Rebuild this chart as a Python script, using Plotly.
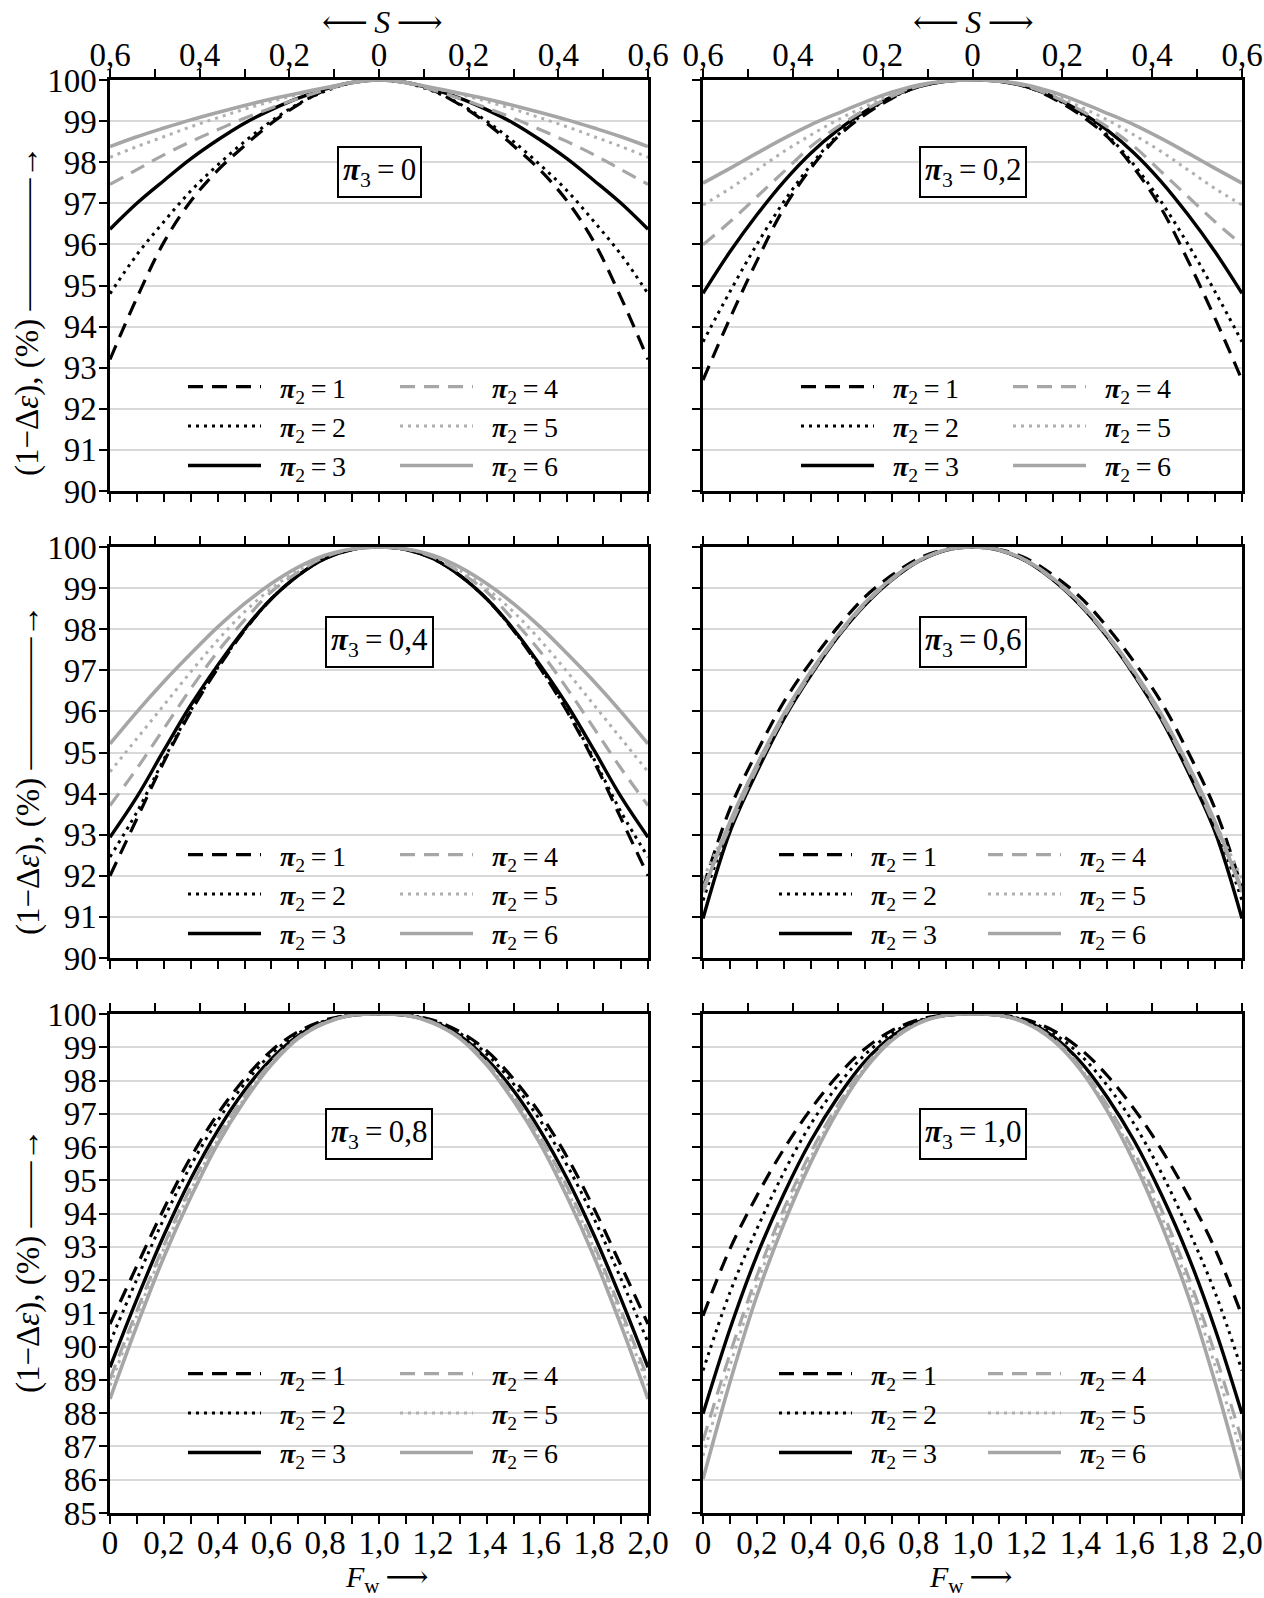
import plotly.graph_objects as go

W, H = 1264, 1598
FONT = "Liberation Serif, DejaVu Serif, serif"

# Fw values of the left half (curves are symmetric about Fw = 1)
FW_HALF = [0.0, 0.1, 0.2, 0.3, 0.4, 0.5, 0.6, 0.7, 0.8, 0.9, 1.0]
PI2_VALUES = [1, 2, 3, 4, 5, 6]
PI3_LABELS = ["0", "0,2", "0,4", "0,6", "0,8", "1,0"]

# (1 - delta eps) in % at FW_HALF, one row per pi2 = 1..6
PI3_00 = [
    [93.2, 94.7, 96.05, 97.05, 97.8, 98.4, 98.95, 99.4, 99.75, 99.94, 100],
    [94.8, 95.75, 96.55, 97.3, 97.93, 98.5, 99.0, 99.42, 99.73, 99.93, 100],
    [96.37, 97.0, 97.55, 98.08, 98.54, 98.95, 99.28, 99.56, 99.78, 99.94, 100],
    [97.46, 97.82, 98.18, 98.5, 98.79, 99.07, 99.32, 99.55, 99.76, 99.93, 100],
    [98.12, 98.38, 98.62, 98.86, 99.08, 99.29, 99.48, 99.65, 99.81, 99.94, 100],
    [98.38, 98.62, 98.83, 99.03, 99.21, 99.38, 99.54, 99.68, 99.81, 99.94, 100],
]
PI3_02 = [
    [92.7, 94.2, 95.6, 96.88, 97.85, 98.62, 99.15, 99.55, 99.84, 99.97, 100],
    [93.63, 94.85, 96.0, 97.04, 97.93, 98.66, 99.19, 99.57, 99.84, 99.97, 100],
    [94.81, 95.82, 96.72, 97.53, 98.22, 98.78, 99.23, 99.59, 99.84, 99.97, 100],
    [95.99, 96.55, 97.16, 97.77, 98.38, 98.86, 99.27, 99.6, 99.85, 99.97, 100],
    [96.96, 97.36, 97.81, 98.26, 98.66, 99.03, 99.35, 99.64, 99.85, 99.97, 100],
    [97.49, 97.85, 98.22, 98.58, 98.91, 99.19, 99.46, 99.7, 99.88, 99.97, 100],
]
PI3_04 = [
    [92.0, 93.39, 94.77, 95.99, 97.04, 97.97, 98.74, 99.31, 99.72, 99.94, 100],
    [92.46, 93.55, 94.83, 96.02, 97.06, 97.98, 98.74, 99.31, 99.72, 99.94, 100],
    [92.94, 93.92, 95.05, 96.15, 97.12, 98.0, 98.74, 99.31, 99.72, 99.94, 100],
    [93.71, 94.61, 95.58, 96.55, 97.45, 98.22, 98.91, 99.39, 99.76, 99.95, 100],
    [94.53, 95.34, 96.15, 96.96, 97.73, 98.42, 98.99, 99.43, 99.78, 99.95, 100],
    [95.21, 95.99, 96.72, 97.4, 98.05, 98.62, 99.11, 99.51, 99.8, 99.95, 100],
]
PI3_06 = [
    [91.7, 93.63, 95.01, 96.23, 97.2, 98.05, 98.78, 99.31, 99.72, 99.94, 100],
    [91.4, 93.23, 94.61, 95.9, 96.94, 97.85, 98.62, 99.22, 99.66, 99.93, 100],
    [90.96, 93.07, 94.53, 95.82, 96.88, 97.81, 98.58, 99.19, 99.65, 99.92, 100],
    [91.7, 93.19, 94.61, 95.86, 96.91, 97.83, 98.6, 99.2, 99.66, 99.92, 100],
    [91.93, 93.31, 94.69, 95.9, 96.94, 97.85, 98.62, 99.22, 99.66, 99.93, 100],
    [91.6, 93.31, 94.7, 95.94, 96.97, 97.87, 98.64, 99.23, 99.67, 99.93, 100],
]
PI3_08 = [
    [90.68, 92.43, 94.14, 95.69, 96.99, 98.05, 98.9, 99.47, 99.82, 99.97, 100],
    [90.13, 92.03, 93.84, 95.44, 96.79, 97.9, 98.8, 99.42, 99.8, 99.97, 100],
    [89.38, 91.43, 93.34, 95.04, 96.49, 97.7, 98.65, 99.35, 99.77, 99.96, 100],
    [89.03, 91.08, 93.04, 94.79, 96.29, 97.53, 98.55, 99.3, 99.75, 99.96, 100],
    [88.83, 90.93, 92.94, 94.69, 96.22, 97.46, 98.52, 99.28, 99.74, 99.96, 100],
    [88.43, 90.63, 92.69, 94.49, 96.09, 97.39, 98.47, 99.27, 99.73, 99.96, 100],
]
PI3_10 = [
    [90.93, 92.94, 94.54, 95.94, 97.14, 98.15, 98.95, 99.5, 99.83, 99.97, 100],
    [89.28, 91.63, 93.54, 95.24, 96.69, 97.85, 98.77, 99.42, 99.8, 99.97, 100],
    [87.98, 90.53, 92.74, 94.59, 96.19, 97.5, 98.57, 99.32, 99.77, 99.96, 100],
    [87.17, 89.78, 92.13, 94.14, 95.84, 97.26, 98.43, 99.25, 99.74, 99.96, 100],
    [86.72, 89.43, 91.88, 93.94, 95.69, 97.17, 98.38, 99.23, 99.73, 99.96, 100],
    [86.02, 88.93, 91.53, 93.69, 95.54, 97.09, 98.33, 99.2, 99.72, 99.96, 100],
]
PANELS = [PI3_00, PI3_02, PI3_04, PI3_06, PI3_08, PI3_10]

X_TICKS = [0.0, 0.1, 0.2, 0.3, 0.4, 0.5, 0.6, 0.7, 0.8, 0.9, 1.0,
           1.1, 1.2, 1.3, 1.4, 1.5, 1.6, 1.7, 1.8, 1.9, 2.0]
X_TICKTEXT = ["0", "", "0,2", "", "0,4", "", "0,6", "", "0,8", "", "1,0",
              "", "1,2", "", "1,4", "", "1,6", "", "1,8", "", "2,0"]
S_TICKS = [-0.6, -0.5, -0.4, -0.3, -0.2, -0.1, 0.0, 0.1, 0.2, 0.3, 0.4, 0.5, 0.6]
S_TICKTEXT = ["0,6", "", "0,4", "", "0,2", "", "0", "", "0,2", "", "0,4", "", "0,6"]
Y_RANGES = [[90, 100], [90, 100], [85, 100]]

STYLES = [
    dict(color="black", dash="15px,9px", width=3.2),
    dict(color="black", dash="3px,5px", width=3),
    dict(color="black", dash="solid", width=3.4),
    dict(color="#a6a6a6", dash="15px,9px", width=3.2),
    dict(color="#b0b0b0", dash="3px,5px", width=3),
    dict(color="#a6a6a6", dash="solid", width=3.6),
]

# layout geometry (pixels in the page)
COL_X = [(110, 648), (703, 1242)]
ROW_Y = [(80, 491), (547, 958), (1014, 1513)]
LEG_ROW_Y = [388, 856, 1375]
LEG_X = [[(189, 401), (802, 1014)], [(189, 401), (780, 989)], [(189, 401), (780, 989)]]
BOX_Y = [97.77, 97.7, 96.4]


def px(x):
    return x / W


def py(y):
    return 1 - y / H


x_full = FW_HALF + [round(2 - v, 2) for v in reversed(FW_HALF[:-1])]

fig = go.Figure()
layout = dict(
    template="none",
    width=W, height=H, margin=dict(l=0, r=0, t=0, b=0, pad=0, autoexpand=False),
    plot_bgcolor="white", paper_bgcolor="white",
    font=dict(family=FONT, size=30, color="black"),
    showlegend=True,
)
annotations = []

axis_common = dict(showline=True, linecolor="black", linewidth=2.5,
                   ticks="outside", ticklen=8, tickwidth=2, tickcolor="black",
                   tickfont=dict(family=FONT, size=33, color="black"),
                   zeroline=False, fixedrange=True, automargin=False)

for i, panel in enumerate(PANELS):
    r, c = divmod(i, 2)
    n = i + 1
    xa = "x" if n == 1 else f"x{n}"
    ya = "y" if n == 1 else f"y{n}"
    xt = f"x{n + 6}"
    xdom = [px(COL_X[c][0]), px(COL_X[c][1])]
    ydom = [py(ROW_Y[r][1]), py(ROW_Y[r][0])]

    layout[f"xaxis{n}"] = dict(axis_common, domain=xdom, anchor=ya, range=[0, 2],
                               tickmode="array", tickvals=X_TICKS, ticktext=X_TICKTEXT,
                               showticklabels=(r == 2), showgrid=False,
                               ticklabelstandoff=-9)
    layout[f"xaxis{n + 6}"] = dict(axis_common, domain=xdom, anchor=ya, overlaying=xa,
                                   side="top", range=[-0.6, 0.6], tickmode="array",
                                   tickvals=S_TICKS, ticktext=S_TICKTEXT,
                                   showticklabels=(r == 0), showgrid=False,
                                   ticklabelstandoff=-10)
    layout[f"yaxis{n}"] = dict(axis_common, domain=ydom, anchor=xa, range=Y_RANGES[r],
                               tickmode="linear", dtick=1, tick0=85, mirror=True,
                               showgrid=True, gridcolor="#d9d9d9", gridwidth=1.5,
                               showticklabels=(c == 0), ticklabelstandoff=-4)

    for k, vals in enumerate(panel):
        y_full = vals + list(reversed(vals[:-1]))
        leg_idx = 2 * i + (0 if k < 3 else 1) + 1
        leg = "legend" if leg_idx == 1 else f"legend{leg_idx}"
        st = STYLES[k]
        fig.add_trace(go.Scatter(
            x=x_full, y=y_full, mode="lines", xaxis=xa, yaxis=ya,
            line=dict(color=st["color"], dash=st["dash"], width=st["width"], shape="spline"),
            name=f"\u2002<b><i>π</i></b><sub>2</sub>\u2009=\u2009{PI2_VALUES[k]}",
            legend=leg, showlegend=True, hoverinfo="skip"))

    # empty trace so the top S axis is drawn
    fig.add_trace(go.Scatter(x=[None], y=[None], xaxis=xt, yaxis=ya,
                             showlegend=False, hoverinfo="skip"))

    for j in range(2):
        leg_idx = 2 * i + j + 1
        key = "legend" if leg_idx == 1 else f"legend{leg_idx}"
        layout[key] = dict(
            x=px(LEG_X[r][c][j] - 6), y=py(LEG_ROW_Y[r] - 26),
            xanchor="left", yanchor="top", bgcolor="rgba(0,0,0,0)",
            borderwidth=0, itemwidth=73, tracegroupgap=0,
            font=dict(family=FONT, size=28, color="black"),
            itemclick=False, itemdoubleclick=False)

    annotations.append(dict(
        x=1.0, y=BOX_Y[r], xref=xa, yref=ya, showarrow=False,
        xanchor="center", yanchor="middle",
        text=f"<b><i>π</i></b><sub>3</sub>\u2009=\u2009{PI3_LABELS[i]}",
        font=dict(family=FONT, size=31, color="black"),
        bgcolor="white", bordercolor="black", borderwidth=2, borderpad=4))

# axis titles
for r, yc in enumerate([311, 770, 1261]):
    arrow = "\u2014" * 4 + "\u2192" if r < 2 else "\u2014" * 2 + "\u2192"
    annotations.append(dict(
        x=px(28), y=py(yc), xref="paper", yref="paper", showarrow=False,
        xanchor="center", yanchor="middle",
        textangle=-90, text=f"(1\u2212Δ<i>ε</i>), (%) {arrow}",
        font=dict(family=FONT, size=33, color="black")))
for xc in [382, 973]:
    annotations.append(dict(
        x=px(xc), y=py(22), xref="paper", yref="paper", showarrow=False,
        xanchor="center", yanchor="middle",
        text="\u27f5\u2009<i>S</i>\u2009\u27f6", font=dict(family=FONT, size=32, color="black")))
for xc in [387, 971]:
    annotations.append(dict(
        x=px(xc), y=py(1579), xref="paper", yref="paper", showarrow=False,
        xanchor="center", yanchor="middle",
        text="<i>F</i><sub>w</sub>\u2009\u27f6", font=dict(family=FONT, size=30, color="black")))

layout["annotations"] = annotations
fig.update_layout(**layout)

fig.write_html("out.html", config={"displayModeBar": False},
               post_script="document.body.style.margin='0';document.documentElement.style.overflow='hidden';")
